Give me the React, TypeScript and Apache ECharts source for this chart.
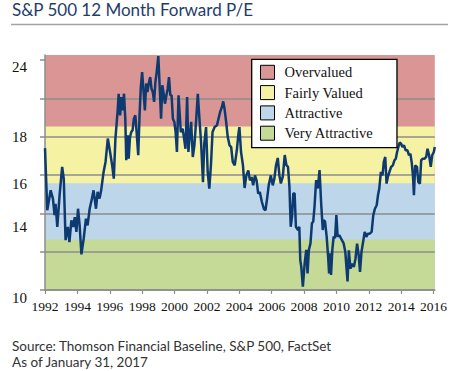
import React, { useEffect, useRef } from "react";
import * as echarts from "echarts";

const titleText = "S&P 500 12 Month Forward P/E";
const sourceLines = [
  "Source: Thomson Financial Baseline, S&P 500, FactSet",
  "As of January 31, 2017",
];

const xTickYears = [1992, 1994, 1996, 1998, 2000, 2002, 2004, 2006, 2008, 2010, 2012, 2014, 2016];
const yGridValues = [10, 12, 14, 16, 18, 20, 22];
const yTickLabels = ["24", "18", "16", "14", "10"];

// valuation bands, top to bottom (upper edge of each band)
const bandNames = ["Overvalued", "Fairly Valued", "Attractive", "Very Attractive"];
const bandUpper = [22.26, 18.53, 15.57, 12.64];
const bandColors = ["#d99694", "#f5f2a4", "#bdd6ea", "#c4da96"];

const peDates = [
  1992.00, 1992.14, 1992.35, 1992.49, 1992.59, 1992.65, 1992.76, 1992.90, 1993.06, 1993.16,
  1993.27, 1993.41, 1993.51, 1993.63, 1993.74, 1993.84, 1993.94, 1994.04, 1994.14, 1994.25,
  1994.39, 1994.53, 1994.63, 1994.76, 1994.90, 1995.00, 1995.15, 1995.25, 1995.37, 1995.47,
  1995.62, 1995.74, 1995.88, 1996.02, 1996.15, 1996.25, 1996.35, 1996.49, 1996.55, 1996.64,
  1996.72, 1996.80, 1996.88, 1996.96, 1997.02, 1997.11, 1997.17, 1997.25, 1997.33, 1997.41,
  1997.49, 1997.58, 1997.66, 1997.76, 1997.84, 1997.92, 1998.00, 1998.09, 1998.17, 1998.25,
  1998.33, 1998.41, 1998.50, 1998.58, 1998.66, 1998.74, 1998.82, 1998.90, 1999.00, 1999.09,
  1999.17, 1999.25, 1999.33, 1999.41, 1999.50, 1999.58, 1999.66, 1999.74, 1999.82, 1999.90,
  1999.99, 2000.07, 2000.15, 2000.25, 2000.39, 2000.50, 2000.58, 2000.68, 2000.78, 2000.86,
  2000.95, 2001.03, 2001.13, 2001.23, 2001.33, 2001.44, 2001.54, 2001.64, 2001.76, 2001.84,
  2001.95, 2002.05, 2002.15, 2002.25, 2002.35, 2002.48, 2002.62, 2002.72, 2002.82, 2002.93,
  2003.01, 2003.09, 2003.19, 2003.29, 2003.40, 2003.50, 2003.60, 2003.72, 2003.85, 2003.95,
  2004.01, 2004.11, 2004.23, 2004.33, 2004.44, 2004.56, 2004.66, 2004.76, 2004.86, 2004.97,
  2005.07, 2005.17, 2005.27, 2005.40, 2005.52, 2005.62, 2005.72, 2005.82, 2005.95, 2006.07,
  2006.17, 2006.27, 2006.38, 2006.48, 2006.57, 2006.69, 2006.81, 2006.91, 2007.01, 2007.10,
  2007.18, 2007.26, 2007.34, 2007.42, 2007.50, 2007.63, 2007.71, 2007.77, 2007.83, 2007.93,
  2008.04, 2008.14, 2008.22, 2008.30, 2008.40, 2008.49, 2008.57, 2008.65, 2008.75, 2008.85,
  2008.96, 2009.06, 2009.16, 2009.22, 2009.30, 2009.40, 2009.49, 2009.55, 2009.61, 2009.67,
  2009.75, 2009.83, 2009.92, 2010.00, 2010.08, 2010.18, 2010.28, 2010.45, 2010.55, 2010.65,
  2010.69, 2010.77, 2010.87, 2010.97, 2011.08, 2011.18, 2011.28, 2011.38, 2011.46, 2011.55,
  2011.65, 2011.75, 2011.85, 2011.95, 2012.06, 2012.18, 2012.28, 2012.38, 2012.49, 2012.57,
  2012.65, 2012.75, 2012.85, 2012.93, 2013.02, 2013.10, 2013.18, 2013.28, 2013.38, 2013.49,
  2013.59, 2013.67, 2013.75, 2013.83, 2013.91, 2014.00, 2014.08, 2014.18, 2014.28, 2014.39,
  2014.49, 2014.57, 2014.65, 2014.73, 2014.79, 2014.87, 2014.98, 2015.06, 2015.16, 2015.24,
  2015.34, 2015.45, 2015.55, 2015.63, 2015.73, 2015.83, 2015.92, 2016.02, 2016.08,
];

const peValues = [
  17.4, 14.16, 15.2, 14.77, 13.9, 14.5, 13.29, 14.94, 16.42, 15.8,
  12.6, 13.29, 12.5, 13.63, 13.29, 13.8, 13.03, 14.24, 13.37, 11.86,
  12.68, 13.72, 13.37, 14.24, 14.77, 15.2, 14.24, 15.12, 14.77, 15.2,
  16.16, 16.68, 17.9, 17.2, 16.5, 15.81, 17.9, 19.37, 20.24, 19.11,
  20.07, 19.37, 20.24, 18.94, 16.77, 18.07, 16.85, 17.98, 18.24, 18.33,
  18.94, 19.11, 18.24, 17.03, 19.11, 20.59, 21.37, 20.33, 19.37, 20.77,
  20.33, 20.77, 21.11, 20.5, 20.33, 19.81, 20.85, 21.37, 22.2, 20.5,
  18.94, 20.68, 20.24, 19.72, 20.16, 20.5, 21.11, 20.16, 20.16, 18.94,
  18.77, 18.24, 17.2, 20.16, 18.24, 18.42, 17.98, 17.37, 20.07, 17.2,
  18.16, 18.77, 16.94, 17.55, 18.77, 20.24, 18.94, 17.72, 15.63, 17.63,
  18.5, 16.16, 15.29, 16.5, 18.24, 18.5, 18.59, 18.94, 19.29, 19.55,
  19.84, 19.46, 18.77, 17.98, 17.55, 17.46, 16.68, 16.5, 17.29, 18.16,
  18.5, 17.2, 16.5, 15.32, 15.98, 16.24, 15.72, 15.9, 15.46, 15.98,
  15.72, 15.03, 15.11, 14.59, 14.24, 14.16, 14.77, 15.46, 15.98, 15.46,
  15.81, 16.5, 16.89, 15.98, 15.56, 15.91, 17.04, 16.52, 16.43, 15.39,
  13.3, 13.83, 15.04, 15.04, 13.3, 13.13, 13.3, 11.56, 11.22, 10.17,
  11.39, 12.09, 10.87, 12.09, 12.43, 13.48, 13.57, 14.35, 15.74, 15.3,
  16.26, 14.52, 13.13, 13.65, 13.57, 12.78, 11.74, 10.87, 11.91, 10.78,
  12.09, 12.78, 12.7, 13.91, 12.78, 12.87, 12.7, 12.43, 12.0, 10.87,
  10.45, 12.07, 11.11, 11.37, 11.2, 11.63, 12.42, 11.81, 10.94, 11.98,
  12.5, 13.03, 12.77, 12.94, 12.94, 13.03, 13.9, 14.24, 14.42, 14.94,
  15.29, 16.16, 15.98, 16.68, 16.94, 15.55, 15.9, 16.16, 16.42, 16.5,
  16.77, 16.85, 17.2, 17.46, 17.69, 17.63, 17.46, 17.55, 17.29, 17.29,
  17.03, 17.11, 16.68, 15.98, 14.94, 16.5, 16.42, 15.63, 15.55, 16.77,
  16.85, 16.85, 16.94, 17.37, 17.03, 16.42, 17.03, 17.2, 17.46,
];

const xMin = 1992;
const xMax = 2016.08;
const yMin = 10;
const yMax = 22.26;

// layout (pixels)
const yLabelCenters = [66.5, 136.5, 184, 226.5, 297.5];
const sourceLineCenters = [346, 361.5];
const gridColor = "#8c8c8c";
const serif = "'Liberation Serif', 'DejaVu Serif', serif";
const sans = "Lato, 'Open Sans', sans-serif";

function buildOption(): any {
  // each band drawn as an area from the axis bottom up to its upper edge;
  // later (lower) bands paint over earlier ones
  const bandSeries = bandNames.map((name, i) => ({
    type: "line",
    name,
    data: [
      [xMin, bandUpper[i]],
      [xMax, bandUpper[i]],
    ],
    symbol: "none",
    lineStyle: { width: 0, opacity: 0 },
    itemStyle: { color: bandColors[i] },
    areaStyle: { color: bandColors[i], opacity: 1, origin: "start" },
    silent: true,
    z: 1,
  }));

  const graphics: any[] = [
    {
      type: "text",
      x: 12,
      y: 9,
      style: {
        text: titleText,
        fill: "#1f3d6b",
        fontFamily: sans,
        fontSize: 17,
        align: "left",
        verticalAlign: "middle",
      },
    },
    {
      type: "line",
      shape: { x1: 11, y1: 24.5, x2: 448, y2: 24.5 },
      style: { stroke: "#a3a3a3", lineWidth: 1.3 },
    },
    ...yTickLabels.map((t, i) => ({
      type: "text",
      x: 12,
      y: yLabelCenters[i],
      style: {
        text: t,
        fill: "#111",
        fontFamily: serif,
        fontSize: 15,
        align: "left",
        verticalAlign: "middle",
      },
    })),
    ...sourceLines.map((t, i) => ({
      type: "text",
      x: 12,
      y: sourceLineCenters[i],
      style: {
        text: t,
        fill: "#333",
        fontFamily: sans,
        fontSize: 13.5,
        lineHeight: 14,
        align: "left",
        verticalAlign: "middle",
      },
    })),
  ];

  return {
    animation: false,
    backgroundColor: "#fff",
    grid: { left: 45, right: 12, top: 55, bottom: 81, containLabel: false },
    xAxis: {
      type: "value",
      min: xMin,
      max: xMax,
      interval: 2,
      z: 3,
      axisLine: { show: true, lineStyle: { color: gridColor, width: 1.5 } },
      axisTick: {
        show: true,
        length: 4,
        customValues: xTickYears,
        lineStyle: { color: gridColor, width: 1.2 },
      },
      axisLabel: {
        customValues: xTickYears,
        formatter: (v: number) => String(Math.round(v)),
        fontFamily: serif,
        fontSize: 13.5,
        color: "#111",
        margin: 9,
      },
      splitLine: { show: false },
    },
    yAxis: {
      type: "value",
      min: yMin,
      max: yMax,
      interval: 2,
      z: 3,
      axisLine: { show: true, lineStyle: { color: gridColor, width: 1.5 } },
      axisTick: {
        show: true,
        length: 5,
        customValues: yGridValues,
        lineStyle: { color: gridColor, width: 1.5 },
      },
      axisLabel: { show: false },
      splitLine: {
        show: true,
        showMaxLine: false,
        lineStyle: { color: gridColor, width: 1.5 },
      },
    },
    legend: {
      data: bandNames.map((n) => ({ name: n })),
      orient: "vertical",
      left: 251.7,
      top: 59.3,
      padding: [5.5, 23.5, 7, 8.3],
      itemGap: 5.3,
      itemWidth: 14,
      itemHeight: 14,
      icon: "rect",
      itemStyle: { borderColor: "#000", borderWidth: 1 },
      backgroundColor: "#fff",
      borderColor: "#000",
      borderWidth: 1.3,
      selectedMode: false,
      textStyle: {
        fontFamily: serif,
        fontSize: 14.5,
        color: "#111",
        padding: [0, 0, 0, 5],
      },
      z: 6,
    },
    graphic: graphics,
    series: [
      ...bandSeries,
      {
        type: "line",
        name: "Forward P/E",
        data: peDates.map((d, i) => [d, peValues[i]]),
        symbol: "none",
        lineStyle: { color: "#0d3a70", width: 2.5 },
        itemStyle: { color: "#0d3a70" },
        z: 5,
        clip: true,
      },
    ],
  };
}

export default function App() {
  const ref = useRef<HTMLDivElement>(null);
  useEffect(() => {
    if (!ref.current) return;
    const chart = echarts.init(ref.current, undefined, { renderer: "svg" });
    chart.setOption(buildOption());
    return () => chart.dispose();
  }, []);
  return (
    <div
      ref={ref}
      style={{ position: "absolute", left: 0, top: 0, width: 450, height: 371, background: "#fff" }}
    />
  );
}
